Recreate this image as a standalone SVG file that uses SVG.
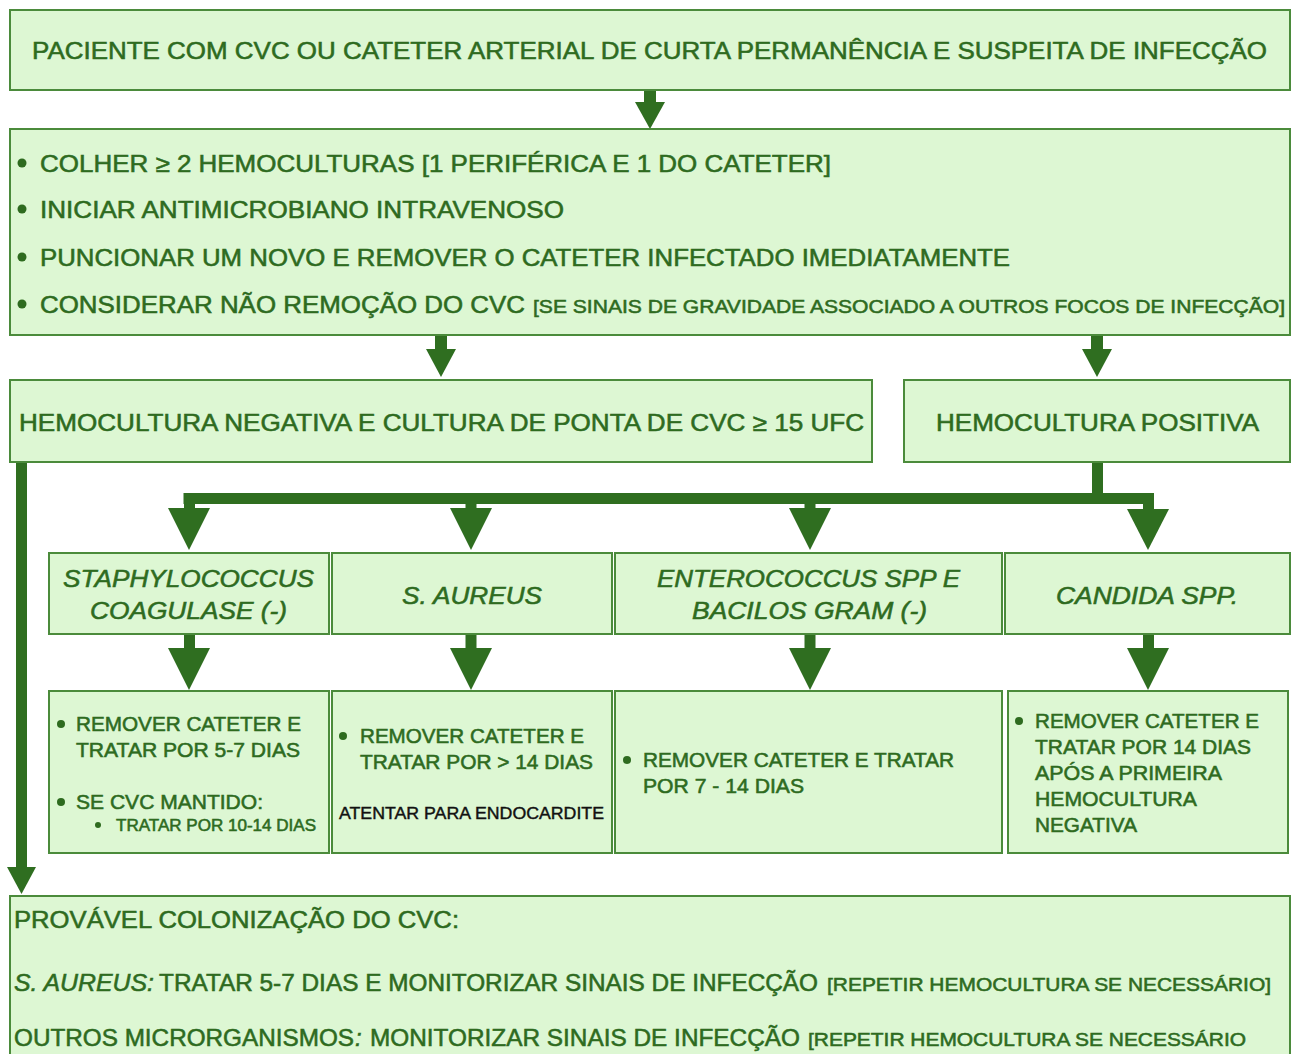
<svg xmlns="http://www.w3.org/2000/svg" width="1292" height="1054" viewBox="0 0 1292 1054">
<style>
.box{fill:#ddf7d3;stroke:#4b8b3b;stroke-width:2}
text{font-family:"Liberation Sans",Arial,sans-serif;fill:#2e6b1f;stroke:#2e6b1f;stroke-width:0.55}
.t24{font-size:24px}
.t20{font-size:20px}
.t19{font-size:19px}
.t16{font-size:16px}
.it{font-style:italic}
.blk{fill:#111;stroke:#111;stroke-width:0.4}
.bul{fill:#2e6b1f}
.arr{fill:#2f6e20}
.bar{fill:none;stroke:#2f6e20;stroke-width:11}
</style>
<rect width="1292" height="1054" fill="#ffffff"/>

<g id="connectors">
  <rect class="arr" x="644" y="90" width="12" height="14"/>
  <polygon class="arr" points="635,102 665,102 650,129"/>
  <rect class="arr" x="435" y="335" width="12" height="16"/>
  <polygon class="arr" points="426,349 456,349 441,377"/>
  <rect class="arr" x="1091" y="335" width="12" height="16"/>
  <polygon class="arr" points="1082,349 1112,349 1097,377"/>
  <path class="bar" d="M1097.5 462 V498.5 M183.5 498.5 H1154 M189.5 498 V510 M471 498 V510 M810 498 V510 M1148.5 498 V510"/>
  <polygon class="arr" points="168,508 210,508 189,550"/>
  <polygon class="arr" points="450,508 492,508 471,550"/>
  <polygon class="arr" points="789,508 831,508 810,550"/>
  <polygon class="arr" points="1127,509 1169,509 1148,550"/>
  <path class="bar" d="M189.5 634 V650 M471 634 V650 M810 634 V650 M1148.5 634 V650"/>
  <polygon class="arr" points="168,648 210,648 189,690"/>
  <polygon class="arr" points="450,648 492,648 471,690"/>
  <polygon class="arr" points="789,648 831,648 810,690"/>
  <polygon class="arr" points="1127,648 1169,648 1148,690"/>
  <rect class="arr" x="16" y="462" width="11" height="407"/>
  <polygon class="arr" points="7,867 36,867 21.5,894"/>
</g>

<g id="n-paciente">
  <rect class="box" x="10" y="10" width="1280" height="80"/>
  <text class="t24" x="32" y="59" textLength="1235" lengthAdjust="spacingAndGlyphs">PACIENTE COM CVC OU CATETER ARTERIAL DE CURTA PERMANÊNCIA E SUSPEITA DE INFECÇÃO</text>
</g>

<g id="n-condutas">
  <rect class="box" x="10" y="129" width="1280" height="206"/>
  <circle class="bul" cx="22" cy="163" r="4.5"/>
  <text class="t24" x="40" y="172" textLength="791" lengthAdjust="spacingAndGlyphs">COLHER ≥ 2 HEMOCULTURAS [1 PERIFÉRICA E 1 DO CATETER]</text>
  <circle class="bul" cx="22" cy="209" r="4.5"/>
  <text class="t24" x="40" y="218" textLength="524" lengthAdjust="spacingAndGlyphs">INICIAR ANTIMICROBIANO INTRAVENOSO</text>
  <circle class="bul" cx="22" cy="257" r="4.5"/>
  <text class="t24" x="40" y="266" textLength="970" lengthAdjust="spacingAndGlyphs">PUNCIONAR UM NOVO E REMOVER O CATETER INFECTADO IMEDIATAMENTE</text>
  <circle class="bul" cx="22" cy="304" r="4.5"/>
  <text class="t24" x="40" y="313" textLength="485" lengthAdjust="spacingAndGlyphs">CONSIDERAR NÃO REMOÇÃO DO CVC</text>
  <text class="t19" x="533" y="313" textLength="752" lengthAdjust="spacingAndGlyphs">[SE SINAIS DE GRAVIDADE ASSOCIADO A OUTROS FOCOS DE INFECÇÃO]</text>
</g>

<g id="n-hemo-negativa">
  <rect class="box" x="10" y="380" width="862" height="82"/>
  <text class="t24" x="19" y="431" textLength="845" lengthAdjust="spacingAndGlyphs">HEMOCULTURA NEGATIVA E CULTURA DE PONTA DE CVC ≥ 15 UFC</text>
</g>

<g id="n-hemo-positiva">
  <rect class="box" x="904" y="380" width="386" height="82"/>
  <text class="t24" x="936" y="431" textLength="323" lengthAdjust="spacingAndGlyphs">HEMOCULTURA POSITIVA</text>
</g>

<g id="n-staph">
  <rect class="box" x="49" y="553" width="280" height="81"/>
  <text class="t24 it" x="63" y="587" textLength="251" lengthAdjust="spacingAndGlyphs">STAPHYLOCOCCUS</text>
  <text class="t24 it" x="90" y="619" textLength="197" lengthAdjust="spacingAndGlyphs">COAGULASE (-)</text>
</g>

<g id="n-saureus">
  <rect class="box" x="332" y="553" width="280" height="81"/>
  <text class="t24 it" x="402" y="604" textLength="140" lengthAdjust="spacingAndGlyphs">S. AUREUS</text>
</g>

<g id="n-entero">
  <rect class="box" x="615" y="553" width="387" height="81"/>
  <text class="t24 it" x="657" y="587" textLength="303" lengthAdjust="spacingAndGlyphs">ENTEROCOCCUS SPP E</text>
  <text class="t24 it" x="692" y="619" textLength="235" lengthAdjust="spacingAndGlyphs">BACILOS GRAM (-)</text>
</g>

<g id="n-candida">
  <rect class="box" x="1005" y="553" width="285" height="81"/>
  <text class="t24 it" x="1056" y="604" textLength="182" lengthAdjust="spacingAndGlyphs">CANDIDA SPP.</text>
</g>

<g id="n-trat-staph">
  <rect class="box" x="49" y="691" width="280" height="162"/>
  <circle class="bul" cx="61" cy="724" r="4"/>
  <text class="t20" x="76" y="731" textLength="225" lengthAdjust="spacingAndGlyphs">REMOVER CATETER E</text>
  <text class="t20" x="76" y="757" textLength="224" lengthAdjust="spacingAndGlyphs">TRATAR POR 5-7 DIAS</text>
  <circle class="bul" cx="61" cy="802" r="4"/>
  <text class="t20" x="76" y="809" textLength="187" lengthAdjust="spacingAndGlyphs">SE CVC MANTIDO:</text>
  <circle class="bul" cx="98" cy="825" r="3"/>
  <text class="t16" x="116" y="831" textLength="200" lengthAdjust="spacingAndGlyphs">TRATAR POR 10-14 DIAS</text>
</g>

<g id="n-trat-saureus">
  <rect class="box" x="332" y="691" width="280" height="162"/>
  <circle class="bul" cx="343" cy="736" r="4"/>
  <text class="t20" x="360" y="743" textLength="224" lengthAdjust="spacingAndGlyphs">REMOVER CATETER E</text>
  <text class="t20" x="360" y="769" textLength="233" lengthAdjust="spacingAndGlyphs">TRATAR POR &gt; 14 DIAS</text>
  <text class="t16 blk" x="339" y="819" textLength="265" lengthAdjust="spacingAndGlyphs">ATENTAR PARA ENDOCARDITE</text>
</g>

<g id="n-trat-entero">
  <rect class="box" x="615" y="691" width="387" height="162"/>
  <circle class="bul" cx="627" cy="760" r="4"/>
  <text class="t20" x="643" y="767" textLength="311" lengthAdjust="spacingAndGlyphs">REMOVER CATETER E TRATAR</text>
  <text class="t20" x="643" y="793" textLength="161" lengthAdjust="spacingAndGlyphs">POR 7 - 14 DIAS</text>
</g>

<g id="n-trat-candida">
  <rect class="box" x="1008" y="691" width="280" height="162"/>
  <circle class="bul" cx="1019" cy="721" r="4"/>
  <text class="t20" x="1035" y="728" textLength="224" lengthAdjust="spacingAndGlyphs">REMOVER CATETER E</text>
  <text class="t20" x="1035" y="754" textLength="216" lengthAdjust="spacingAndGlyphs">TRATAR POR 14 DIAS</text>
  <text class="t20" x="1035" y="780" textLength="187" lengthAdjust="spacingAndGlyphs">APÓS A PRIMEIRA</text>
  <text class="t20" x="1035" y="806" textLength="162" lengthAdjust="spacingAndGlyphs">HEMOCULTURA</text>
  <text class="t20" x="1035" y="832" textLength="102" lengthAdjust="spacingAndGlyphs">NEGATIVA</text>
</g>

<g id="n-colonizacao">
  <rect class="box" x="10" y="896" width="1280" height="170"/>
  <text class="t24" x="14" y="928" textLength="445" lengthAdjust="spacingAndGlyphs">PROVÁVEL COLONIZAÇÃO DO CVC:</text>
  <text class="t24 it" x="14" y="991" textLength="140" lengthAdjust="spacingAndGlyphs">S. AUREUS:</text>
  <text class="t24" x="159" y="991" textLength="659" lengthAdjust="spacingAndGlyphs">TRATAR 5-7 DIAS E MONITORIZAR SINAIS DE INFECÇÃO</text>
  <text class="t19" x="827" y="991" textLength="444" lengthAdjust="spacingAndGlyphs">[REPETIR HEMOCULTURA SE NECESSÁRIO]</text>
  <text class="t24" x="14" y="1046" textLength="340" lengthAdjust="spacingAndGlyphs">OUTROS MICRORGANISMOS</text>
  <text class="t24 it" x="355" y="1046">:</text>
  <text class="t24" x="370" y="1046" textLength="430" lengthAdjust="spacingAndGlyphs">MONITORIZAR SINAIS DE INFECÇÃO</text>
  <text class="t19" x="808" y="1046" textLength="438" lengthAdjust="spacingAndGlyphs">[REPETIR HEMOCULTURA SE NECESSÁRIO</text>
</g>
</svg>
